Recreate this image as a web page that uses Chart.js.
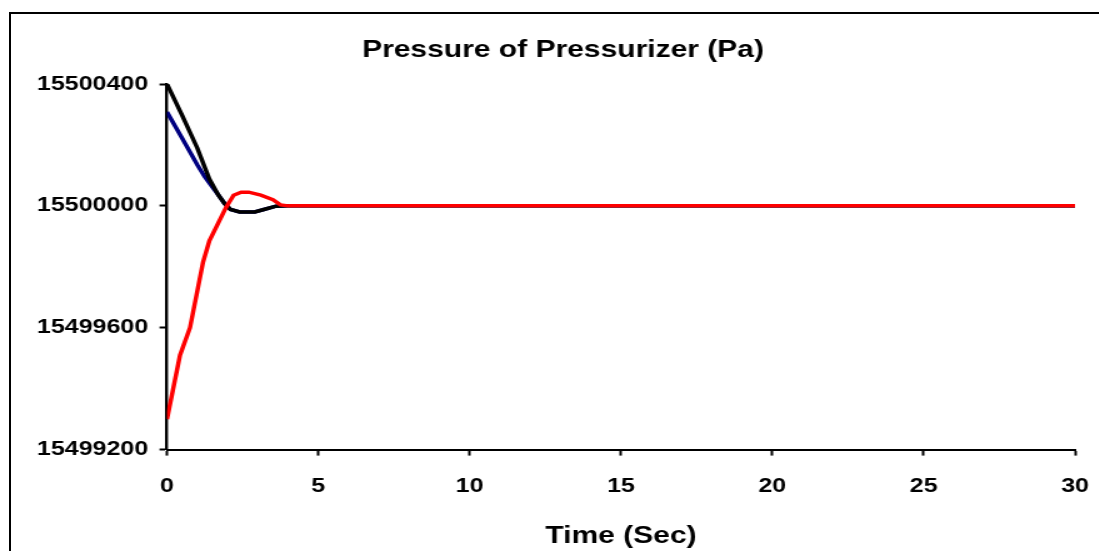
<!DOCTYPE html>
<html>
<head>
<meta charset="utf-8">
<script src="https://cdn.jsdelivr.net/npm/chart.js@4"></script>
<style>
  html, body { margin: 0; padding: 0; background: #fff; overflow: hidden; }
  #frame { position: absolute; left: 9px; top: 12px; width: 1200px; height: 700px;
           border-left: 2px solid #000; border-top: 2px solid #000; }
  #wrap { position: absolute; left: 0; top: 0; width: 879.2px; height: 551px;
          transform: scaleX(1.25); transform-origin: 0 0; }
</style>
</head>
<body>
<div id="frame"></div>
<div id="wrap"><canvas id="myChart"></canvas></div>
<script>
// time in seconds, pressure offsets (added to 15500000 Pa)
const base = 15500000
const timeBlack = [0, 0.5, 1.0, 1.4, 1.7, 1.9, 2.1, 2.4, 2.9, 3.2, 3.6, 4, 30]
const pressBlack = [400, 297, 190, 88, 35, 8, -12, -20, -20, -12, -1, 0, 0]
const timeBlue = [0, 0.5, 1.0, 1.25, 1.5, 1.7, 1.9, 2.1, 2.4, 2.9, 3.2, 3.6, 4, 30]
const pressBlue = [308, 222, 135, 95, 62, 35, 8, -12, -20, -20, -12, -1, 0, 0]
const timeRed = [0, 0.43, 0.76, 1.19, 1.4, 1.7, 1.95, 2.2, 2.45, 2.7, 3.1, 3.5, 3.75, 4, 30]
const pressRed = [-700, -490, -400, -185, -115, -55, -5, 35, 45, 45, 35, 20, 3, 0, 0]
const xTicks = [0, 5, 10, 15, 20, 25, 30]
const yTicks = [15499200, 15499600, 15500000, 15500400]

const toPoints = (t, p) => t.map((x, i) => ({ x: x, y: base + p[i] }))
const font = '"Liberation Sans", Arial, sans-serif'

// nudge the title a little to the right, like in the original picture
const titleShift = {
    id: 'titleShift',
    afterLayout(chart) {
        chart.titleBlock.left += 5.6
        chart.titleBlock.right += 5.6
    },
}

const ctx = document.getElementById('myChart')
new Chart(ctx, {
    type: 'line',
    data: {
        datasets: [
            { label: 'red', data: toPoints(timeRed, pressRed), borderColor: '#ff0000', order: 1 },
            { label: 'black', data: toPoints(timeBlack, pressBlack), borderColor: '#000000', order: 2 },
            { label: 'blue', data: toPoints(timeBlue, pressBlue), borderColor: '#000080', order: 3 },
        ],
    },
    plugins: [titleShift],
    options: {
        responsive: true,
        maintainAspectRatio: false,
        animation: false,
        elements: {
            point: { radius: 0 },
            line: { borderWidth: 3.5, tension: 0, fill: false },
        },
        layout: { padding: { top: 20, left: 29.6, right: 19.2, bottom: 0 } },
        plugins: {
            legend: { display: false },
            tooltip: { enabled: false },
            title: {
                display: true,
                text: 'Pressure of Pressurizer (Pa)',
                color: '#000',
                font: { family: font, size: 24, weight: 'bold' },
                padding: { top: 15.6, bottom: 19.6 },
            },
        },
        scales: {
            x: {
                type: 'linear',
                min: 0,
                max: 30,
                afterBuildTicks: (s) => { s.ticks = xTicks.map((v) => ({ value: v })) },
                afterFit: (s) => { s.paddingLeft = 0; s.paddingRight = 0 },
                ticks: { color: '#000', padding: 19, maxRotation: 0,
                         font: { family: font, size: 20, weight: 'bold' } },
                grid: { drawOnChartArea: false, tickLength: 6, tickColor: '#000', tickWidth: 2 },
                border: { color: '#000', width: 2 },
                title: {
                    display: true,
                    text: 'Time (Sec)',
                    color: '#000',
                    font: { family: font, size: 24, weight: 'bold' },
                    padding: { top: 4.6, bottom: 0 },
                },
            },
            y: {
                min: 15499200,
                max: 15500400,
                afterBuildTicks: (s) => { s.ticks = yTicks.map((v) => ({ value: v })) },
                afterFit: (s) => { s.width = 104 },
                ticks: { color: '#000', padding: 9, callback: (v) => String(v),
                         font: { family: font, size: 20, weight: 'bold' } },
                grid: { drawOnChartArea: false, tickLength: 6, tickColor: '#000', tickWidth: 2 },
                border: { color: '#000', width: 2.4 },
            },
        },
    },
})
</script>
</body>
</html>
